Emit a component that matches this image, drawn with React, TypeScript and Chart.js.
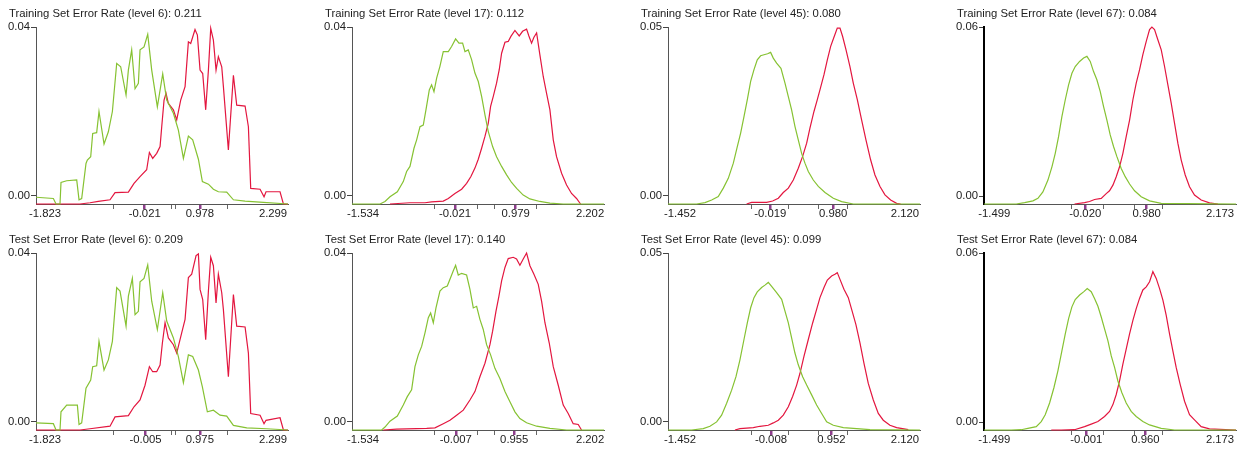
import React, { useEffect, useRef } from 'react';
import { Chart, registerables } from 'chart.js';

Chart.register(...registerables);

// ---------- data (x = score, y = density) ----------
const LEVELS = [6, 17, 45, 67];
const TRAIN_ERROR = ['0.211', '0.112', '0.080', '0.084'];
const TEST_ERROR = ['0.209', '0.140', '0.099', '0.084'];

const RANGE_MIN = [-1.823, -1.534, -1.452, -1.499];
const RANGE_MAX = [2.299, 2.202, 2.12, 2.173];
const TRAIN_MEAN_GREEN = [-0.021, -0.021, -0.019, -0.02];
const TRAIN_MEAN_RED = [0.978, 0.979, 0.98, 0.98];
const TEST_MEAN_GREEN = [-0.005, -0.007, -0.008, -0.001];
const TEST_MEAN_RED = [0.975, 0.955, 0.952, 0.96];
const SPREAD_TICKS = [
  [-0.593, 0.456, 0.528, 1.468],
  [-0.35, 0.357, 0.63, 1.328],
  [-0.314, 0.278, 0.745, 1.215],
  [-0.236, 0.285, 0.784, 1.244],
];
const AXIS_X_MIN = [-1.986, -1.715, -1.642, -1.666];
const AXIS_X_MAX = [2.57, 2.432, 2.358, 2.433];
const Y_TOP = [0.04, 0.04, 0.05, 0.06];
const Y_BASE = [-0.0019, -0.0019, -0.0024, -0.0028];

const train6Green = [[-1.986,-0.0003],[-1.672,-0.0006],[-1.624,-0.0019],[-1.552,-0.0019],[-1.534,0.0032],[-1.431,0.0036],[-1.25,0.0038],[-1.208,-0.0009],[-1.16,-0.0006],[-1.082,0.0077],[-1.058,0.0085],[-0.997,0.0093],[-0.961,0.0148],[-0.889,0.015],[-0.847,0.02],[-0.756,0.0123],[-0.678,0.0152],[-0.605,0.02],[-0.527,0.0314],[-0.455,0.0306],[-0.358,0.0239],[-0.316,0.0298],[-0.256,0.0346],[-0.195,0.0254],[-0.135,0.0267],[-0.105,0.0346],[-0.033,0.0353],[0.034,0.0383],[0.106,0.0298],[0.208,0.0211],[0.305,0.0289],[0.377,0.0227],[0.498,0.0196],[0.588,0.0156],[0.679,0.0089],[0.769,0.0142],[0.847,0.0133],[0.95,0.0087],[1.022,0.0034],[1.131,0.0028],[1.221,0.0016],[1.311,0.001],[1.462,0.0009],[1.583,-0.0009],[1.794,-0.0012],[2.125,-0.0015],[2.57,-0.0019]];
const train6Red = [[-1.986,-0.0019],[-1.19,-0.0019],[-1.009,-0.0016],[-0.859,-0.0013],[-0.648,-0.0009],[-0.557,0.0008],[-0.316,0.0009],[-0.214,0.003],[-0.105,0.0046],[0.015,0.0062],[0.064,0.0103],[0.124,0.0089],[0.196,0.0101],[0.257,0.0117],[0.287,0.0164],[0.329,0.0227],[0.365,0.0243],[0.407,0.0219],[0.498,0.0204],[0.558,0.018],[0.63,0.0227],[0.709,0.0259],[0.769,0.0365],[0.811,0.0361],[0.889,0.0394],[0.932,0.0381],[0.98,0.0298],[1.028,0.029],[1.082,0.0204],[1.131,0.0298],[1.173,0.0397],[1.221,0.0369],[1.269,0.0298],[1.311,0.033],[1.372,0.0306],[1.402,0.0259],[1.492,0.0109],[1.583,0.0286],[1.643,0.0215],[1.794,0.0213],[1.854,0.0164],[1.896,0.0018],[2.065,0.0016],[2.137,-0.0002],[2.173,0.001],[2.426,0.001],[2.487,-0.0019],[2.57,-0.0019]];
const test6Green = [[-1.986,-0.0002],[-1.672,-0.0004],[-1.624,-0.0019],[-1.552,-0.0019],[-1.534,0.0024],[-1.431,0.004],[-1.238,0.004],[-1.208,-0.0006],[-1.16,-0.0002],[-1.082,0.008],[-0.997,0.0099],[-0.961,0.0131],[-0.889,0.0133],[-0.847,0.0191],[-0.756,0.0123],[-0.678,0.0147],[-0.605,0.0191],[-0.527,0.0318],[-0.467,0.031],[-0.358,0.0227],[-0.316,0.0298],[-0.244,0.034],[-0.195,0.0254],[-0.135,0.0262],[-0.105,0.0332],[-0.033,0.034],[0.034,0.0372],[0.106,0.0286],[0.208,0.0219],[0.305,0.0306],[0.377,0.0239],[0.498,0.0199],[0.588,0.0155],[0.679,0.0093],[0.769,0.0159],[0.847,0.0155],[0.95,0.0123],[1.022,0.0083],[1.112,0.0024],[1.221,0.0028],[1.341,0.0016],[1.462,0.0014],[1.583,-0.0008],[1.824,-0.0014],[2.185,-0.0016],[2.57,-0.0019]];
const test6Red = [[-1.986,-0.0019],[-1.19,-0.0019],[-1.009,-0.0016],[-0.648,-0.001],[-0.557,0.0012],[-0.316,0.0015],[-0.214,0.0036],[-0.105,0.0052],[-0.015,0.0087],[0.064,0.0131],[0.124,0.0119],[0.196,0.0119],[0.257,0.0135],[0.299,0.0187],[0.347,0.0235],[0.407,0.0199],[0.498,0.0183],[0.558,0.0163],[0.648,0.0211],[0.709,0.0243],[0.769,0.0342],[0.829,0.035],[0.908,0.0394],[0.95,0.0398],[0.98,0.0314],[1.028,0.029],[1.082,0.0195],[1.131,0.031],[1.173,0.039],[1.221,0.037],[1.269,0.0282],[1.311,0.035],[1.372,0.0306],[1.402,0.0266],[1.492,0.0107],[1.583,0.0302],[1.643,0.0227],[1.794,0.0225],[1.854,0.0163],[1.896,0.002],[2.065,0.0016],[2.137,-0.0004],[2.173,0.0004],[2.426,0.001],[2.487,-0.0019],[2.57,-0.0019]];

const train17Green = [[-1.715,-0.0019],[-1.254,-0.0019],[-1.172,-0.0013],[-1.09,-0.0002],[-0.969,0.001],[-0.871,0.0034],[-0.816,0.0058],[-0.761,0.007],[-0.695,0.0113],[-0.651,0.0133],[-0.596,0.0164],[-0.542,0.0168],[-0.498,0.0204],[-0.443,0.0251],[-0.405,0.0263],[-0.366,0.0247],[-0.322,0.0279],[-0.268,0.0307],[-0.213,0.0342],[-0.13,0.0342],[-0.076,0.0354],[-0.01,0.0372],[0.045,0.0362],[0.105,0.0362],[0.144,0.0342],[0.198,0.0346],[0.253,0.0323],[0.308,0.0291],[0.363,0.0271],[0.418,0.0236],[0.473,0.0192],[0.527,0.0153],[0.599,0.0117],[0.664,0.0093],[0.747,0.007],[0.829,0.005],[0.911,0.0032],[0.994,0.0018],[1.103,0.0002],[1.213,-0.0007],[1.377,-0.0013],[1.542,-0.0017],[1.761,-0.0019],[2.432,-0.0019]];
const train17Red = [[-1.09,-0.0019],[-0.761,-0.0016],[-0.514,-0.0016],[-0.405,-0.0014],[-0.213,-0.0012],[-0.13,-0.0006],[-0.021,0.0006],[0.089,0.0016],[0.171,0.003],[0.242,0.0046],[0.308,0.0066],[0.363,0.0087],[0.418,0.0113],[0.473,0.0141],[0.527,0.0172],[0.566,0.0212],[0.61,0.0236],[0.664,0.0267],[0.708,0.0299],[0.747,0.0338],[0.802,0.0364],[0.856,0.0366],[0.9,0.0378],[0.966,0.0392],[1.037,0.0379],[1.092,0.039],[1.158,0.0395],[1.196,0.0379],[1.24,0.0362],[1.279,0.0376],[1.323,0.0386],[1.377,0.0334],[1.432,0.0283],[1.487,0.0243],[1.542,0.0204],[1.597,0.0133],[1.651,0.0093],[1.734,0.0054],[1.816,0.0026],[1.898,0.0006],[1.98,-0.0006],[2.046,-0.0019]];
const test17Green = [[-1.715,-0.0019],[-1.227,-0.0019],[-1.172,-0.0012],[-1.09,0.0002],[-0.969,0.0014],[-0.871,0.004],[-0.805,0.006],[-0.734,0.0076],[-0.679,0.0131],[-0.624,0.0159],[-0.569,0.0179],[-0.514,0.0211],[-0.459,0.0247],[-0.421,0.0258],[-0.377,0.0235],[-0.333,0.027],[-0.268,0.031],[-0.213,0.0318],[-0.147,0.0322],[-0.103,0.0338],[-0.048,0.0358],[-0.01,0.0371],[0.034,0.0348],[0.089,0.0352],[0.171,0.0348],[0.226,0.0314],[0.281,0.027],[0.336,0.0274],[0.39,0.0243],[0.445,0.0219],[0.5,0.0183],[0.566,0.0159],[0.637,0.0127],[0.719,0.0103],[0.802,0.0072],[0.884,0.0048],[0.966,0.0024],[1.048,0.0008],[1.158,-0.0002],[1.323,-0.001],[1.542,-0.0015],[1.816,-0.0019],[2.432,-0.0019]];
const test17Red = [[-1.2,-0.0019],[-0.98,-0.0017],[-0.487,-0.0015],[-0.35,-0.0014],[-0.213,-0.0004],[-0.103,0.0004],[0.007,0.0016],[0.116,0.0028],[0.226,0.0052],[0.308,0.0072],[0.39,0.0107],[0.473,0.0139],[0.555,0.0183],[0.599,0.0215],[0.654,0.0262],[0.703,0.0298],[0.747,0.0334],[0.802,0.0366],[0.856,0.0387],[0.938,0.039],[0.993,0.0386],[1.048,0.0371],[1.103,0.0386],[1.158,0.04],[1.213,0.037],[1.279,0.035],[1.35,0.0326],[1.405,0.0286],[1.46,0.0235],[1.531,0.0187],[1.597,0.0131],[1.679,0.0087],[1.761,0.004],[1.843,0.002],[1.925,-0.0004],[2.008,-0.0006],[2.062,-0.0019]];

const train45Green = [[-1.642,-0.0024],[-1.187,-0.0024],[-1.055,-0.002],[-0.949,-0.0012],[-0.844,-0.0002],[-0.764,0.0023],[-0.685,0.0052],[-0.605,0.0097],[-0.542,0.0146],[-0.489,0.0186],[-0.436,0.0235],[-0.383,0.0285],[-0.33,0.0339],[-0.277,0.0374],[-0.225,0.0403],[-0.172,0.0415],[-0.119,0.0418],[-0.061,0.0421],[-0.013,0.0425],[0.029,0.0408],[0.082,0.0393],[0.151,0.0378],[0.215,0.0334],[0.268,0.0294],[0.32,0.0255],[0.373,0.0206],[0.426,0.0166],[0.479,0.0126],[0.532,0.0097],[0.585,0.0072],[0.664,0.0047],[0.744,0.0028],[0.85,0.001],[0.982,-0.0007],[1.114,-0.0017],[1.299,-0.0024],[2.358,-0.0024]];
const train45Red = [[-0.394,-0.0024],[-0.315,-0.0019],[-0.076,-0.0019],[0.019,-0.0015],[0.109,-0.0007],[0.188,0.001],[0.268,0.0023],[0.347,0.0047],[0.426,0.0082],[0.495,0.0117],[0.559,0.0156],[0.611,0.0201],[0.675,0.025],[0.728,0.0285],[0.77,0.0314],[0.834,0.0359],[0.887,0.0403],[0.94,0.0443],[0.992,0.047],[1.045,0.0497],[1.088,0.0497],[1.13,0.0472],[1.183,0.0433],[1.246,0.0383],[1.299,0.0334],[1.363,0.0285],[1.431,0.0225],[1.5,0.0166],[1.574,0.0107],[1.643,0.0062],[1.723,0.0028],[1.802,0.0003],[1.892,-0.0012],[1.987,-0.0022],[2.05,-0.0024]];
const test45Green = [[-1.642,-0.0024],[-1.267,-0.0024],[-1.082,-0.002],[-0.976,-0.0013],[-0.87,0],[-0.791,0.002],[-0.711,0.0055],[-0.632,0.0094],[-0.563,0.0134],[-0.5,0.0184],[-0.436,0.0244],[-0.383,0.0293],[-0.33,0.0338],[-0.277,0.0368],[-0.225,0.0385],[-0.156,0.0398],[-0.103,0.0405],[-0.05,0.0413],[0.003,0.0401],[0.082,0.0383],[0.162,0.0363],[0.215,0.0328],[0.268,0.0293],[0.32,0.0249],[0.373,0.0204],[0.426,0.0169],[0.495,0.0134],[0.559,0.0109],[0.638,0.008],[0.717,0.005],[0.797,0.0025],[0.876,0],[0.982,-0.001],[1.141,-0.0017],[1.564,-0.0023],[2.358,-0.0024]];
const test45Red = [[-0.579,-0.0024],[-0.5,-0.002],[-0.288,-0.0017],[-0.182,-0.0013],[-0.05,-0.001],[0.029,-0.0003],[0.109,0.0005],[0.188,0.002],[0.268,0.0045],[0.336,0.0075],[0.4,0.0109],[0.453,0.0144],[0.516,0.0194],[0.585,0.0244],[0.654,0.0293],[0.717,0.0333],[0.77,0.0368],[0.834,0.0398],[0.887,0.042],[0.955,0.0432],[1.008,0.0437],[1.045,0.0442],[1.088,0.0422],[1.151,0.0393],[1.22,0.0368],[1.273,0.0333],[1.341,0.0288],[1.405,0.0234],[1.468,0.0174],[1.537,0.0114],[1.617,0.0065],[1.696,0.0025],[1.775,0.0005],[1.881,-0.001],[1.987,-0.0017],[2.172,-0.0023]];

const train67Green = [[-1.666,-0.0028],[-1.141,-0.0028],[-1.006,-0.0023],[-0.87,-0.0017],[-0.789,-0.0008],[-0.708,0.0015],[-0.626,0.0057],[-0.561,0.0104],[-0.507,0.0152],[-0.453,0.0211],[-0.399,0.0282],[-0.344,0.0342],[-0.29,0.0395],[-0.236,0.0436],[-0.182,0.046],[-0.111,0.0478],[-0.046,0.049],[0.008,0.0496],[0.062,0.0478],[0.116,0.0442],[0.17,0.0413],[0.225,0.0371],[0.279,0.0318],[0.333,0.027],[0.387,0.0217],[0.441,0.0176],[0.496,0.014],[0.566,0.0098],[0.631,0.0069],[0.702,0.0043],[0.783,0.0019],[0.891,-0.0002],[1.027,-0.0017],[1.216,-0.0026],[2.433,-0.0028]];
const train67Red = [[-0.193,-0.0028],[-0.03,-0.0023],[0.051,-0.0019],[0.132,-0.0012],[0.241,-0.0008],[0.322,0.0009],[0.376,0.0019],[0.431,0.0039],[0.485,0.0069],[0.539,0.0104],[0.593,0.0152],[0.647,0.0211],[0.702,0.027],[0.756,0.0342],[0.81,0.0401],[0.864,0.0448],[0.918,0.0502],[0.973,0.0549],[1.027,0.0591],[1.065,0.06],[1.108,0.0591],[1.162,0.0555],[1.217,0.0519],[1.271,0.046],[1.325,0.0395],[1.379,0.033],[1.433,0.0259],[1.488,0.0187],[1.542,0.0128],[1.607,0.0075],[1.677,0.0033],[1.758,0.0004],[1.867,-0.0014],[2.002,-0.0024],[2.138,-0.0028]];
const test67Green = [[-1.666,-0.0028],[-1.223,-0.0028],[-1.06,-0.0027],[-0.952,-0.0022],[-0.816,-0.0016],[-0.735,0.0002],[-0.67,0.0026],[-0.599,0.0068],[-0.529,0.0122],[-0.464,0.0182],[-0.399,0.0253],[-0.344,0.0313],[-0.29,0.0367],[-0.236,0.0409],[-0.182,0.0435],[-0.111,0.0451],[-0.041,0.0463],[0.013,0.0474],[0.078,0.0463],[0.132,0.0439],[0.187,0.0411],[0.241,0.0373],[0.295,0.0331],[0.349,0.0289],[0.404,0.0235],[0.458,0.0194],[0.512,0.0146],[0.577,0.0104],[0.647,0.0068],[0.728,0.0038],[0.81,0.002],[0.918,0.0002],[1.027,-0.001],[1.216,-0.0022],[1.433,-0.0028],[2.433,-0.0028]];
const test67Red = [[-0.572,-0.0028],[-0.41,-0.0028],[-0.193,-0.0027],[-0.03,-0.0016],[0.078,-0.0007],[0.187,0.0002],[0.295,0.002],[0.376,0.0038],[0.431,0.0062],[0.485,0.0098],[0.539,0.0146],[0.593,0.0206],[0.647,0.0259],[0.702,0.0313],[0.756,0.0361],[0.81,0.0403],[0.864,0.0439],[0.918,0.0469],[0.973,0.048],[1.027,0.0498],[1.081,0.0534],[1.135,0.051],[1.19,0.0474],[1.244,0.0433],[1.298,0.0379],[1.352,0.0313],[1.406,0.0253],[1.46,0.0194],[1.525,0.0134],[1.596,0.0074],[1.677,0.0026],[1.758,0.0008],[1.867,-0.0016],[2.002,-0.0024],[2.433,-0.0028]];

const TRAIN_GREEN = [train6Green, train17Green, train45Green, train67Green];
const TRAIN_RED = [train6Red, train17Red, train45Red, train67Red];
const TEST_GREEN = [test6Green, test17Green, test45Green, test67Green];
const TEST_RED = [test6Red, test17Red, test45Red, test67Red];

// ---------- styling ----------
const GREEN = '#86c232';
const RED = '#e3163f';
const PURPLE = '#8e3e8c';
const FONT = { family: '"Liberation Sans", Arial, sans-serif', size: 11.3, weight: 'normal' as const };
const TEXT = '#222';

// moves the title text to the right, independent of the y axis box
const titleShift = {
  id: 'titleShift',
  afterLayout(chart: any) {
    const t = chart.titleBlock;
    if (t) {
      t.left += 9;
      t.right += 9;
    }
  },
};

type PanelProps = { col: number; test: boolean };

function Panel({ col, test }: PanelProps) {
  const ref = useRef<HTMLCanvasElement>(null);
  useEffect(() => {
    const title = `${test ? 'Test' : 'Training'} Set Error Rate (level ${LEVELS[col]}): ${test ? TEST_ERROR[col] : TRAIN_ERROR[col]}`;
    const green = test ? TEST_GREEN[col] : TRAIN_GREEN[col];
    const red = test ? TEST_RED[col] : TRAIN_RED[col];
    const mG = test ? TEST_MEAN_GREEN[col] : TRAIN_MEAN_GREEN[col];
    const mR = test ? TEST_MEAN_RED[col] : TRAIN_MEAN_RED[col];
    const major = [RANGE_MIN[col], mG, mR, RANGE_MAX[col]];
    const tickVals = [...major, ...SPREAD_TICKS[col]].sort((a, b) => a - b);
    const isMean = (v: number) => v === mG || v === mR;
    const isRange = (v: number) => v === RANGE_MIN[col] || v === RANGE_MAX[col];
    const axisColor = col === 3 ? '#000' : '#555';
    const axisWidth = col === 3 ? 2 : 1;

    const chart = new Chart(ref.current!, {
      type: 'line',
      data: {
        datasets: [
          {
            data: green.map(([x, y]) => ({ x, y })),
            borderColor: GREEN,
            borderWidth: 1.2,
            pointRadius: 0,
            fill: false,
            tension: 0,
            clip: false as any,
          },
          {
            data: red.map(([x, y]) => ({ x, y })),
            borderColor: RED,
            borderWidth: 1.2,
            pointRadius: 0,
            fill: false,
            tension: 0,
            clip: false as any,
          },
        ],
      },
      plugins: [titleShift],
      options: {
        responsive: false,
        animation: false,
        events: [],
        layout: { padding: { left: 0, right: 28, top: 0, bottom: 0 } },
        plugins: {
          legend: { display: false },
          tooltip: { enabled: false },
          title: {
            display: true,
            text: title,
            align: 'start',
            color: TEXT,
            font: FONT,
            padding: { top: 7.5, bottom: 6 },
          },
        },
        scales: {
          x: {
            type: 'linear',
            min: AXIS_X_MIN[col],
            max: AXIS_X_MAX[col],
            afterBuildTicks: (s: any) => {
              s.ticks = tickVals.map((v) => ({ value: v }));
            },
            afterFit: (s: any) => {
              s.height = 22;
            },
            grid: {
              drawOnChartArea: false,
              drawTicks: true,
              tickLength: 5,
              color: (ctx: any) => {
                const v = ctx.tick?.value;
                if (isMean(v)) return PURPLE;
                if (isRange(v)) return 'rgba(0,0,0,0)';
                return '#666';
              },
              lineWidth: (ctx: any) => (isMean(ctx.tick?.value) ? 2.5 : 1),
            },
            border: { display: true, color: '#555', width: 1 },
            ticks: {
              autoSkip: false,
              maxRotation: 0,
              minRotation: 0,
              padding: -1.5,
              color: TEXT,
              font: FONT,
              callback: (v: any) => (major.includes(Number(v)) ? Number(v).toFixed(3) : ''),
            },
          },
          y: {
            type: 'linear',
            min: Y_BASE[col],
            max: Y_TOP[col],
            afterBuildTicks: (s: any) => {
              s.ticks = [{ value: 0 }, { value: Y_TOP[col] }];
            },
            afterFit: (s: any) => {
              s.width = 36;
            },
            grid: { drawOnChartArea: false, drawTicks: true, tickLength: 5, color: '#444' },
            border: { display: true, color: axisColor, width: axisWidth },
            ticks: {
              padding: 1,
              color: TEXT,
              font: FONT,
              callback: (v: any) => Number(v).toFixed(2),
            },
          },
        },
      },
    } as any);
    return () => chart.destroy();
  }, [col, test]);
  return <canvas ref={ref} width={316} height={226} style={{ display: 'block', width: 316, height: 226 }} />;
}

export default function App() {
  const cols = [0, 1, 2, 3];
  return (
    <div
      style={{
        position: 'absolute',
        left: 0,
        top: 0,
        width: 1238,
        height: 449,
        overflow: 'hidden',
        background: '#fff',
        display: 'grid',
        gridTemplateColumns: 'repeat(4, 316px)',
        gridTemplateRows: 'repeat(2, 226px)',
      }}
    >
      {cols.map((c) => (
        <Panel key={'tr' + c} col={c} test={false} />
      ))}
      {cols.map((c) => (
        <Panel key={'te' + c} col={c} test={true} />
      ))}
    </div>
  );
}
